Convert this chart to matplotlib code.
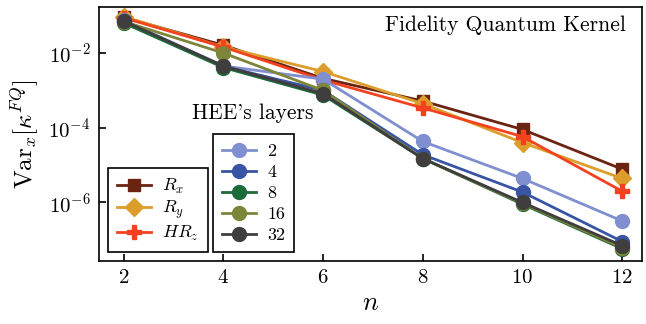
import matplotlib
matplotlib.use('Agg')
import matplotlib.pyplot as plt
from matplotlib.ticker import LogLocator, NullLocator

plt.rcParams['font.family'] = 'serif'
plt.rcParams['font.serif'] = ['cmr10']
plt.rcParams['mathtext.fontset'] = 'cm'
plt.rcParams['axes.unicode_minus'] = False
plt.rcParams['axes.formatter.use_mathtext'] = True

n = [2, 4, 6, 8, 10, 12]

# single-qubit encodings
rx = [0.090, 0.0162, 0.0021, 5.2e-4, 9.0e-5, 7.8e-6]
ry = [0.095, 0.0145, 0.0032, 4.4e-4, 4.0e-5, 4.4e-6]
hrz = [0.088, 0.0145, 0.0019, 3.4e-4, 5.8e-5, 2.0e-6]

# HEE layers
layers = ['2', '4', '8', '16', '32']
hee = {
    '2':  [0.075, 0.0045, 0.0020, 4.3e-5, 4.4e-6, 3.2e-7],
    '4':  [0.072, 0.0044, 0.0010, 1.9e-5, 1.9e-6, 9.0e-8],
    '8':  [0.064, 0.0041, 0.00075, 1.5e-5, 9.0e-7, 5.8e-8],
    '16': [0.070, 0.0100, 0.0010, 1.5e-5, 9.5e-7, 6.2e-8],
    '32': [0.072, 0.0045, 0.00082, 1.5e-5, 1.0e-6, 7.0e-8],
}

enc_colors = ['#6b2412', '#dc9d2a', '#f2421f']
hee_colors = ['#7f8fcf', '#3a54a4', '#1d6a3a', '#7d853a', '#403d3e']

fig, ax = plt.subplots(figsize=(6.46, 3.24), dpi=100)
fig.subplots_adjust(left=0.153, right=0.994, top=0.978, bottom=0.194)

lw = 2.0
ms = 9
h_enc = []
h_enc.append(ax.plot(n, rx, marker='s', color=enc_colors[0], lw=lw, ms=ms, label='$R_x$', zorder=3)[0])
h_enc.append(ax.plot(n, ry, marker='D', color=enc_colors[1], lw=lw, ms=ms, label='$R_y$', zorder=3)[0])
h_enc.append(ax.plot(n, hrz, marker='P', color=enc_colors[2], lw=lw, ms=ms + 1, label='$HR_z$', zorder=3)[0])

h_hee = []
for lab, c in zip(layers, hee_colors):
    h_hee.append(ax.plot(n, hee[lab], marker='o', color=c, lw=lw, ms=ms + 1, label=lab, zorder=3)[0])

ax.set_yscale('log')
ax.set_xlim(1.5, 12.4)
ax.set_ylim(10 ** -7.57, 10 ** -0.77)
ax.set_xticks([2, 4, 6, 8, 10, 12])
ax.yaxis.set_major_locator(LogLocator(base=100.0))
ax.yaxis.set_minor_locator(NullLocator())
ax.tick_params(direction='in', length=5, width=1.2, labelsize=15, pad=6)
for s in ax.spines.values():
    s.set_linewidth(1.2)

ax.set_xlabel('$n$', fontsize=19, labelpad=3)
ax.set_ylabel(r'$\mathrm{Var}_x[\kappa^{FQ}]$', fontsize=18, labelpad=6)

ax.text(0.97, 0.93, 'Fidelity Quantum Kernel', transform=ax.transAxes,
        ha='right', va='center', fontsize=15.5)

leg_kw = dict(loc='lower left', borderaxespad=0, fancybox=False, edgecolor='black',
              framealpha=1, fontsize=13, handlelength=1.9, handletextpad=0.6,
              borderpad=0.5)
leg1 = ax.legend(handles=h_enc, bbox_to_anchor=(0.017, 0.035), labelspacing=0.15, **leg_kw)
leg1.get_frame().set_linewidth(1.2)
ax.add_artist(leg1)
leg2 = ax.legend(handles=h_hee, bbox_to_anchor=(0.21, 0.035), labelspacing=0.3, **leg_kw)
leg2.get_frame().set_linewidth(1.2)
ax.text(0.284, 0.545, "HEE's layers", transform=ax.transAxes,
        ha='center', va='bottom', fontsize=15.5)

fig.savefig('out.png', dpi=100)
